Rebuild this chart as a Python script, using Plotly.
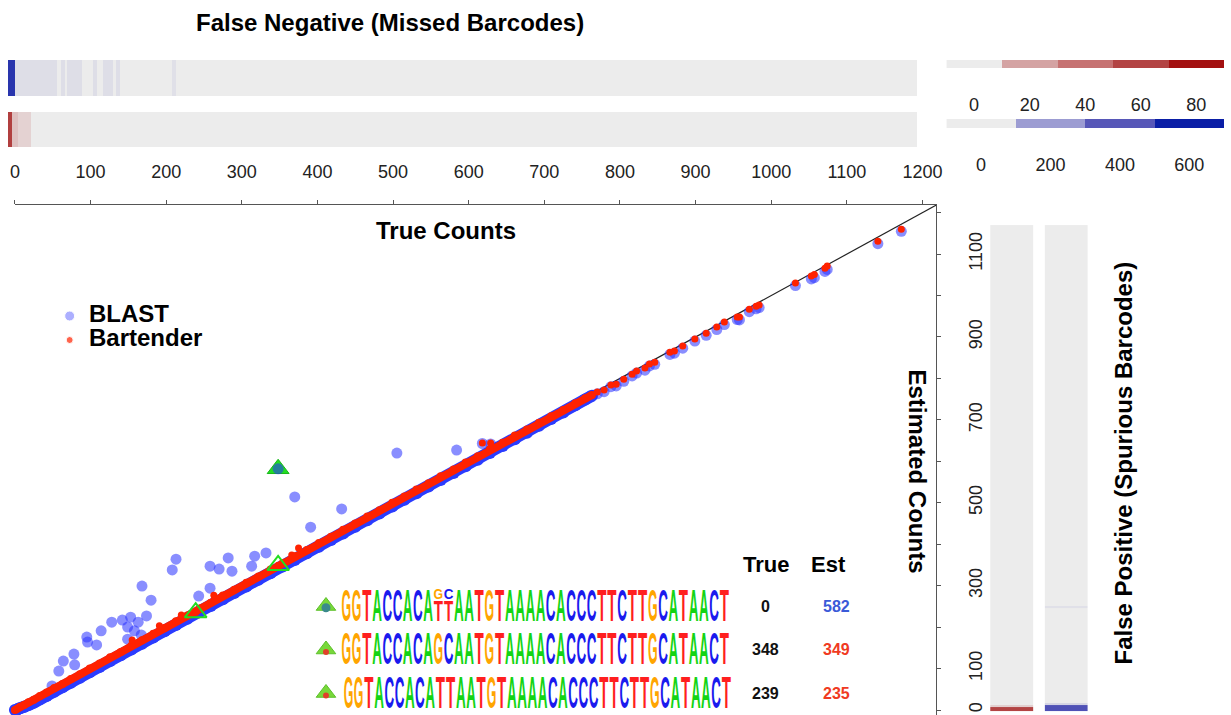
import plotly.graph_objects as go

W, H = 1231, 715
FONT = "Liberation Sans, Arial, Helvetica, sans-serif"

# ---------------- counts: true vs estimated ----------------
count_max = 1218.4          # axis extent (both axes)
est_min = -12.06
tick_vals = list(range(0, 1300, 100))

# dense run of barcodes hugging the identity line
band_true = [0, 3, 7, 12, 18, 25, 33, 42, 52, 63, 74, 86, 99, 112, 126, 140, 154, 168, 183, 198,
             213, 228, 244, 259, 275, 290, 306, 322, 338, 354, 370, 386, 402, 418, 434, 450, 466,
             482, 499, 515, 531, 547, 563, 580, 596, 612, 628, 645, 661, 677, 693, 709, 725, 741,
             754, 763]
band_bartender_est = [0, 3, 8, 12, 19, 25, 34, 42, 53, 63, 75, 86, 100, 112, 127, 140, 155, 168, 184,
                      198, 214, 228, 245, 259, 276, 290, 307, 322, 339, 354, 371, 386, 403, 418, 435,
                      450, 467, 482, 500, 515, 532, 547, 564, 580, 597, 612, 629, 645, 662, 677, 693,
                      709, 724, 740, 752, 760]
band_blast_est = [0, 1, 4, 7, 12, 18, 26, 34, 44, 55, 66, 78, 91, 104, 118, 132, 146, 160, 175, 190,
                  205, 220, 236, 251, 267, 282, 298, 314, 330, 346, 362, 378, 394, 410, 426, 442, 458,
                  474, 491, 507, 523, 539, 555, 572, 588, 604, 620, 637, 653, 669, 686, 702, 718, 735,
                  749, 758]

# sparse high-abundance barcodes
upper_true = [618, 629, 770, 779, 788, 795, 805, 816, 822, 833, 839, 846, 866, 872, 883, 899, 914,
              928, 938, 955, 958, 971, 980, 984, 1032, 1053, 1057, 1071, 1074, 1141, 1172]
upper_bartender_est = [644, 644, 767, 772, 784, 786, 798, 810, 818, 825, 835, 839, 863, 866, 878, 895,
                       909, 924, 936, 948, 948, 967, 974, 977, 1030, 1047, 1051, 1066, 1071, 1131, 1160]
upper_blast_est = [643, 642, 763, 768, 780, 782, 793, 806, 813, 820, 830, 834, 858, 861, 873, 890,
                   904, 918, 930, 942, 941, 961, 968, 971, 1024, 1040, 1043, 1058, 1063, 1125, 1155]

# BLAST over-estimates (merged barcodes)
blast_out_true = [505, 584, 370, 432, 391, 213, 208, 282, 258, 270, 287, 317, 332, 313, 168, 180,
                  258, 243, 128, 142, 153, 163, 174, 149, 158, 114, 167, 149, 95, 96, 108, 78, 79,
                  64, 58, 49]
blast_out_est = [620, 627, 514, 485, 441, 364, 338, 367, 347, 340, 335, 371, 379, 347, 299, 265,
                 294, 275, 212, 217, 224, 212, 227, 200, 191, 191, 181, 171, 176, 164, 157, 135, 109,
                 118, 94, 58]

# Bartender points sitting just above the run
bart_out_true = [375, 366, 263, 220, 191, 155]
bart_out_est = [391, 374, 277, 229, 203, 169]

# highlighted barcodes
table_true = [0, 348, 239]
table_est = [582, 349, 235]
seq_a = "GGTACCACAGCAATGTAAAACACCCTTCTTGCATAACT"   # true 348
seq_b = "GGTACCACATTAATGTAAAACACCCTTCTTGCATAACT"   # true 239
stack_top_frac = 0.33                                # share of seq_a letter in the spurious read

# ---------------- false negatives (per true count) ----------------
fn_blast_edges = [-9.2, 0, 55, 60.5, 65.8, 68.4, 88, 103, 108, 116, 129, 134, 139, 208, 213, 1193]
fn_blast_vals = [520, 35, 0, 35, 0, 35, 0, 35, 0, 35, 0, 35, 0, 30, 0]
fn_bart_edges = [-9.2, -3.5, 4.3, 20.6, 1193]
fn_bart_vals = [62, 12, 7, 0]

# ---------------- false positives (per estimated count) ----------------
fp_bart_edges = [-2.4, 6.5, 12, 1170]
fp_bart_vals = [60, 8, 0]
fp_blast_edges = [-2.4, 11.3, 16, 246, 251, 1170]
fp_blast_vals = [420, 60, 0, 30, 0]

red_key = [0, 20, 40, 60, 80]
blue_key = [0, 200, 400, 600]

series_names = ["BLAST", "Bartender"]

GRAY = "#ececec"
red_scale = [[0, GRAY], [0.25, "#d4a3a3"], [0.5, "#c67272"], [0.75, "#b34444"], [1, "#a31010"]]
blue_scale = [[0, GRAY], [1 / 3, "#9c9cd2"], [2 / 3, "#5757b8"], [1, "#0a1ea6"]]

BLUE_SOFT = "rgba(40,50,255,0.55)"
BLUE_DENSE = "#2a3cff"
RED = "#ff2200"
GREEN = "#22dd22"
letter_color = {"A": "#14d414", "C": "#1a1aee", "G": "#ffa500", "T": "#ff1f1f"}


def dom_x(a, b):
    return [a / W, b / W]


def dom_y(top, bottom):
    return [1 - bottom / H, 1 - top / H]


fig = go.Figure()

# identity line
fig.add_trace(go.Scatter(x=[0, count_max], y=[0, count_max], mode="lines",
                         line=dict(color="#222222", width=1.2), showlegend=False,
                         hoverinfo="skip", cliponaxis=False))

# BLAST
fig.add_trace(go.Scatter(x=band_true, y=band_blast_est, mode="lines+markers",
                         line=dict(color=BLUE_DENSE, width=12),
                         marker=dict(color=BLUE_DENSE, size=12), showlegend=False,
                         cliponaxis=False, hoverinfo="skip"))
fig.add_trace(go.Scatter(x=[table_true[1]], y=[table_est[0]], mode="markers",
                         marker=dict(symbol="triangle-up", size=19, color=GREEN,
                                     line=dict(color="#19b819", width=1)),
                         showlegend=False, hoverinfo="skip"))
fig.add_trace(go.Scatter(x=blast_out_true + [table_true[1]], y=blast_out_est + [table_est[0]],
                         mode="markers", name=series_names[0],
                         marker=dict(color=BLUE_SOFT, size=11), cliponaxis=False, showlegend=False))
fig.add_trace(go.Scatter(x=upper_true, y=upper_blast_est, mode="markers",
                         marker=dict(color=BLUE_SOFT, size=11), showlegend=False))

# Bartender
fig.add_trace(go.Scatter(x=band_true, y=band_bartender_est, mode="lines+markers",
                         line=dict(color=RED, width=8),
                         marker=dict(color=RED, size=8), showlegend=False,
                         cliponaxis=False, hoverinfo="skip"))
fig.add_trace(go.Scatter(x=upper_true + bart_out_true + table_true[1:],
                         y=upper_bartender_est + bart_out_est + table_est[1:],
                         mode="markers", name=series_names[1],
                         marker=dict(color=RED, size=7), showlegend=False))
fig.add_trace(go.Scatter(x=table_true[1:], y=table_est[1:], mode="markers",
                         marker=dict(symbol="triangle-up-open", size=19, color=GREEN,
                                     line=dict(color=GREEN, width=2)),
                         showlegend=False, hoverinfo="skip"))

# legend keys (drawn on their own small axes)
fig.add_trace(go.Scatter(x=[0, 0], y=[0, 1], mode="markers",
                         marker=dict(color=["rgba(40,50,255,0.55)", RED], size=[10, 7]),
                         xaxis="x7", yaxis="y7", showlegend=False, hoverinfo="skip",
                         cliponaxis=False))

# false-negative strips (top)
fig.add_trace(go.Heatmap(z=[fn_blast_vals], x=fn_blast_edges, y0=69, dy=36,
                         colorscale=blue_scale, zmin=0, zmax=600, showscale=False,
                         xaxis="x2", yaxis="y2", hoverinfo="skip"))
fig.add_trace(go.Heatmap(z=[fn_bart_vals], x=fn_bart_edges, y0=17.5, dy=35,
                         colorscale=red_scale, zmin=0, zmax=80, showscale=False,
                         xaxis="x2", yaxis="y2", hoverinfo="skip"))

# false-positive strips (right)
fig.add_trace(go.Heatmap(z=[[v] for v in fp_bart_vals], y=fp_bart_edges, x0=21.5, dx=43,
                         colorscale=red_scale, zmin=0, zmax=80, showscale=False,
                         xaxis="x4", yaxis="y", hoverinfo="skip"))
fig.add_trace(go.Heatmap(z=[[v] for v in fp_blast_vals], y=fp_blast_edges, x0=76.5, dx=43,
                         colorscale=blue_scale, zmin=0, zmax=600, showscale=False,
                         xaxis="x4", yaxis="y", hoverinfo="skip"))

# colour keys
fig.add_trace(go.Heatmap(z=[red_key], x=list(range(len(red_key))), y=[0],
                         colorscale=red_scale, zmin=0, zmax=80, showscale=False,
                         xaxis="x5", yaxis="y5", hoverinfo="skip"))
fig.add_trace(go.Heatmap(z=[blue_key], x=list(range(len(blue_key))), y=[0],
                         colorscale=blue_scale, zmin=0, zmax=600, showscale=False,
                         xaxis="x6", yaxis="y6", hoverinfo="skip"))

# ---------------- sequence logos ----------------
row_y = [2, 1, 0]
row_shift = [0.0, 0.0, 0.2]
letter_h = 0.74
letter_w = 0.95
full = dict(x=[], y=[], t=[])
tops = dict(x=[], y=[], t=[])
bots = dict(x=[], y=[], t=[])
for i, (a, b) in enumerate(zip(seq_a, seq_b)):
    if a == b:
        full["x"].append(i + row_shift[0]); full["y"].append(row_y[0]); full["t"].append(a)
    else:
        top_h = letter_h * stack_top_frac
        bot_h = letter_h - top_h
        tops["x"].append(i + row_shift[0]); tops["y"].append(row_y[0] + letter_h / 2 - top_h / 2); tops["t"].append(a)
        bots["x"].append(i + row_shift[0]); bots["y"].append(row_y[0] - letter_h / 2 + bot_h / 2); bots["t"].append(b)
for r, seq in ((1, seq_a), (2, seq_b)):
    for i, ch in enumerate(seq):
        full["x"].append(i + row_shift[r]); full["y"].append(row_y[r]); full["t"].append(ch)

for grp, h in ((full, letter_h), (tops, letter_h * stack_top_frac),
               (bots, letter_h * (1 - stack_top_frac))):
    fig.add_trace(go.Scatter(x=grp["x"], y=grp["y"], text=grp["t"], mode="text",
                             textposition="middle center",
                             textfont=dict(family=FONT, size=14, weight="bold",
                                           color=[letter_color[c] for c in grp["t"]]),
                             meta=dict(letterHeight=h, letterWidth=letter_w),
                             xaxis="x3", yaxis="y3", showlegend=False, hoverinfo="skip",
                             cliponaxis=False))

# row markers next to the logos
fig.add_trace(go.Scatter(x=[-2, -2, -2], y=row_y, mode="markers",
                         marker=dict(symbol="triangle-up", size=17, color="#78d83a",
                                     line=dict(color="#5cc02a", width=1)),
                         xaxis="x3", yaxis="y3", showlegend=False, hoverinfo="skip"))
fig.add_trace(go.Scatter(x=[-2], y=[row_y[0] - 0.04], mode="markers",
                         marker=dict(size=9, color="#3a8a8c"),
                         xaxis="x3", yaxis="y3", showlegend=False, hoverinfo="skip"))
fig.add_trace(go.Scatter(x=[-2, -2], y=[row_y[1] - 0.06, row_y[2] - 0.06], mode="markers",
                         marker=dict(size=6, color="#e0402a"),
                         xaxis="x3", yaxis="y3", showlegend=False, hoverinfo="skip"))

annotations = []
col_true_x, col_est_x = 41.0, 48.0
for txt, xx in (("True", 41.1), ("Est", 47.2)):
    annotations.append(dict(x=xx, y=2.96, xref="x3", yref="y3", text=f"<b>{txt}</b>",
                            showarrow=False, xanchor="center", yanchor="middle",
                            font=dict(family=FONT, size=22, color="black")))
est_colors = ["#3a5ad8", "#f03a22", "#f03a22"]
for ry, tv, ev, ec in zip(row_y, table_true, table_est, est_colors):
    annotations.append(dict(x=col_true_x, y=ry, xref="x3", yref="y3", text=f"<b>{tv}</b>",
                            showarrow=False, xanchor="center", yanchor="middle",
                            font=dict(family=FONT, size=16, color="#111")))
    annotations.append(dict(x=col_est_x, y=ry, xref="x3", yref="y3", text=f"<b>{ev}</b>",
                            showarrow=False, xanchor="center", yanchor="middle",
                            font=dict(family=FONT, size=16, color=ec)))

# legend labels
for k, name in enumerate(series_names):
    annotations.append(dict(x=0.85, y=k - 0.1, xref="x7", yref="y7", text=f"<b>{name}</b>",
                            showarrow=False, xanchor="left", yanchor="middle",
                            font=dict(family=FONT, size=24, color="black")))

# titles
title_font = dict(family=FONT, size=24, color="black")
annotations += [
    dict(x=392 / W, y=1 - 22 / H, text="<b>False Negative (Missed Barcodes)</b>", textangle=0),
    dict(x=448 / W, y=1 - 230 / H, text="<b>True Counts</b>", textangle=0),
    dict(x=922 / W, y=1 - 471 / H, text="<b>Estimated Counts</b>", textangle=90),
    dict(x=1128 / W, y=1 - 463 / H, text="<b>False Positive (Spurious Barcodes)</b>", textangle=-90),
]
for a in annotations[-4:]:
    a.update(xref="paper", yref="paper", showarrow=False, xanchor="center", yanchor="middle",
             font=title_font)

tick_font = dict(family=FONT, size=18, color="#222")
y_ticktext = [str(v) if (v == 0 or (v // 100) % 2 == 1) and v < 1200 else "" for v in tick_vals]

# logo axes geometry
logo_px_per_col = 10.265
logo_x0 = -(348.1 - 300) / logo_px_per_col
logo_row_px = 43.5
logo_y0 = -(715 - 693) / logo_row_px

fig.update_layout(
    width=W, height=H, autosize=False,
    margin=dict(l=0, r=0, t=0, b=0),
    paper_bgcolor="white", plot_bgcolor="rgba(0,0,0,0)",
    font=dict(family=FONT),
    showlegend=False,
    annotations=annotations,
    xaxis=dict(domain=dom_x(15, 941), range=[0, count_max], side="top", anchor="y",
               showline=True, linecolor="#555", linewidth=1, ticks="outside", ticklen=4,
               tickcolor="#555", tickvals=tick_vals, showticklabels=False,
               showgrid=False, zeroline=False),
    yaxis=dict(domain=dom_y(205, 715), range=[est_min, count_max], side="right", anchor="x",
               showline=True, linecolor="#555", linewidth=1, ticks="outside", ticklen=4,
               tickcolor="#555", tickvals=tick_vals, ticktext=y_ticktext, tickangle=-90,
               tickfont=tick_font, ticklabelstandoff=19, showgrid=False, zeroline=False),
    xaxis2=dict(domain=dom_x(8, 941), range=[-9.2, count_max], anchor="y2", side="bottom",
                tickvals=tick_vals, ticktext=[str(v) for v in tick_vals], tickfont=tick_font,
                ticks="", ticklabelstandoff=12, showline=False, showgrid=False, zeroline=False),
    yaxis2=dict(domain=dom_y(60, 147), range=[0, 87], anchor="x2", visible=False),
    xaxis3=dict(domain=dom_x(300, 900), range=[logo_x0, logo_x0 + 600 / logo_px_per_col],
                anchor="y3", visible=False),
    yaxis3=dict(domain=dom_y(540, 715), range=[logo_y0, logo_y0 + 175 / logo_row_px],
                anchor="x3", visible=False),
    xaxis4=dict(domain=dom_x(995, 1093), range=[0, 98], anchor="y", visible=False),
    xaxis5=dict(domain=dom_x(951, 1230), range=[-0.5, len(red_key) - 0.5], anchor="y5",
                tickvals=list(range(len(red_key))), ticktext=[str(v) for v in red_key],
                tickfont=tick_font, ticks="", ticklabelstandoff=24, showline=False,
                showgrid=False, zeroline=False),
    yaxis5=dict(domain=dom_y(60, 68), anchor="x5", visible=False),
    xaxis6=dict(domain=dom_x(951, 1230), range=[-0.5, len(blue_key) - 0.5], anchor="y6",
                tickvals=list(range(len(blue_key))), ticktext=[str(v) for v in blue_key],
                tickfont=tick_font, ticks="", ticklabelstandoff=24, showline=False,
                showgrid=False, zeroline=False),
    yaxis6=dict(domain=dom_y(119, 128), anchor="x6", visible=False),
    # legend panel: one unit per row (24 px), marker column at x = 0
    xaxis7=dict(domain=dom_x(50, 250), range=[-1, 9], anchor="y7", visible=False),
    yaxis7=dict(domain=dom_y(304, 364), range=[2.0, -0.5], anchor="x7", visible=False),
)

# stretch logo letters so each fills its column like a sequence logo
stretch_js = """
(function(){
  var gd = document.getElementById('{plot_id}');
  function axName(id, base){ return id.length > 1 ? base + id.slice(1) : base; }
  function stretch(){
    var fl = gd._fullLayout;
    gd.querySelectorAll('.scatterlayer .trace').forEach(function(g){
      var d = g.__data__; var tr = d && d[0] && d[0].trace;
      if(!tr || !tr.meta || tr.meta.letterHeight === undefined) return;
      var xa = fl[axName(tr.xaxis, 'xaxis')], ya = fl[axName(tr.yaxis, 'yaxis')];
      var ppx = xa._length / Math.abs(xa.range[1] - xa.range[0]);
      var ppy = ya._length / Math.abs(ya.range[1] - ya.range[0]);
      g.querySelectorAll('.textpoint text').forEach(function(t){
        t.removeAttribute('transform');
        var fs = parseFloat(t.style.fontSize) || 14;
        var b = t.getBBox();
        var sx = tr.meta.letterWidth * ppx / b.width;
        var sy = tr.meta.letterHeight * ppy / (0.716 * fs);
        var cx = b.x + b.width / 2, cy = b.y + b.height / 2;
        t.setAttribute('transform', 'translate(' + cx * (1 - sx) + ',' + cy * (1 - sy) + ') scale(' + sx + ',' + sy + ')');
      });
    });
  }
  stretch();
  gd.on('plotly_afterplot', stretch);
})();
"""

fig.write_html("out.html", post_script=stretch_js)
